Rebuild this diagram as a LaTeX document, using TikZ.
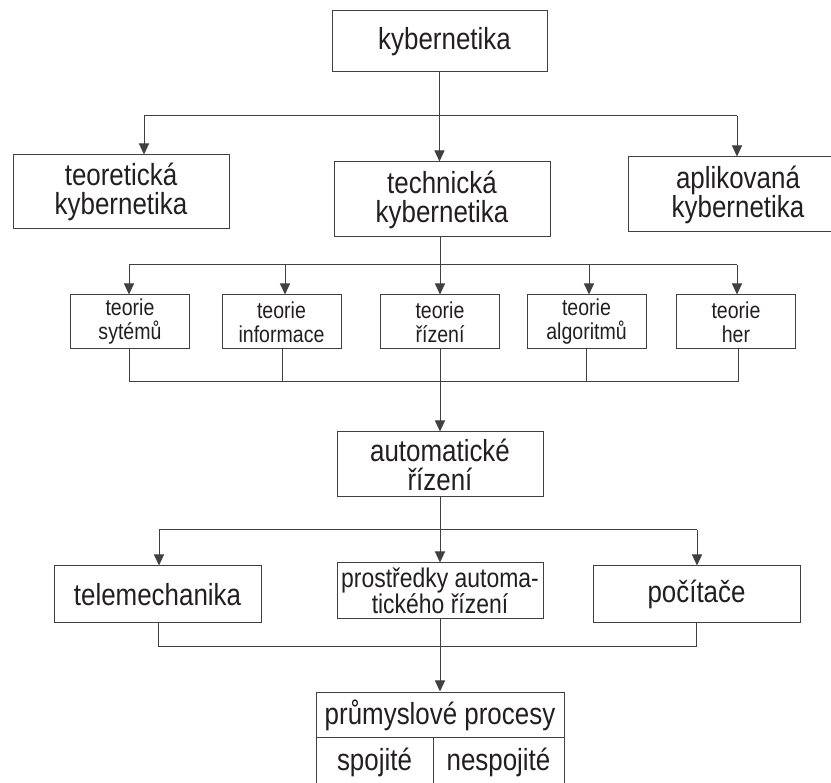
\documentclass[tikz,border=0pt]{standalone}
\usepackage{fontspec}
\setmainfont{Liberation Sans}[FakeStretch=0.85]
\usetikzlibrary{arrows.meta}
\definecolor{ln}{RGB}{64,64,64}
\definecolor{tx}{RGB}{35,31,32}
\begin{document}
\begin{tikzpicture}[x=1pt,y=-1pt,
  box/.style={draw=ln,line width=1pt,text=tx,align=center,inner sep=0pt,font=\fontsize{30.5}{29}\selectfont},
  small/.style={box,font=\fontsize{23}{24}\selectfont,minimum width=119pt,minimum height=54pt},
  plain/.style={text=tx,inner sep=0pt,font=\fontsize{30.5}{29}\selectfont},
  conn/.style={draw=ln,line width=1pt},
  arr/.style={conn,-{Triangle[length=11pt,width=10pt]}}]
\useasboundingbox (0,0) rectangle (831,783);
\fill[white] (0,0) rectangle (831,783);

% level 0
\node[box,minimum width=215pt,minimum height=61pt] (kyb) at (439.5,41.5) {\hspace*{10pt}kybernetika};
% level 1
\node[box,minimum width=216pt,minimum height=74pt] (teo) at (121,192) {teoretická\\kybernetika};
\node[box,minimum width=216pt,minimum height=75pt] (tech) at (442,199.5) {technická\\kybernetika};
\node[box,minimum width=220pt,minimum height=75pt] (apl) at (738,194.5) {aplikovaná\\kybernetika};
% level 2
\node[small] (s1) at (130,322) {teorie\\sytémů};
\node[small] (s2) at (281.5,322) {teorie\\informace};
\node[small] (s3) at (440,322) {teorie\\řízení};
\node[small] (s4) at (586.5,322) {teorie\\algoritmů};
\node[small] (s5) at (736,322) {teorie\\her};
% level 3
\node[box,minimum width=206pt,minimum height=65pt] (aut) at (440,464.5) {automatické\\řízení};
% level 4
\node[box,minimum width=207pt,minimum height=57pt] (tele) at (157.5,594.5) {telemechanika};
\node[box,minimum width=206pt,minimum height=56pt,font=\fontsize{27}{25}\selectfont] (pros) at (440,591) {prostředky automa-\\tického řízení};
\node[box,minimum width=207pt,minimum height=57pt] (poc) at (696.5,594.5) {počítače};
% level 5
\node[draw=ln,line width=1pt,minimum width=248pt,minimum height=118pt,inner sep=0pt] (prum) at (440,751) {};
\node[plain] (pt) at (440,715) {průmyslové procesy};
\node[plain] (sp) at (374.5,762) {spojité};
\node[plain] (nsp) at (498.5,762) {nespojité};
\coordinate (d1) at (316,737);
\coordinate (d2) at (564,737);
\coordinate (d3) at (433,737);
\coordinate (d4) at (433,810);
\draw[conn] (d1) -- (d2);
\draw[conn] (d3) -- (d4);

% connectors level 0 -> 1
\coordinate (j1l) at (144,116);
\coordinate (j1r) at (737,116);
\draw[arr] (kyb.south) -- (kyb.south |- tech.north);
\draw[conn] (j1l) -- (j1r);
\draw[arr] (j1l) -- (j1l |- teo.north);
\draw[arr] (j1r) -- (j1r |- apl.north);

% level 1 -> 2
\coordinate (j2l) at (129,265);
\coordinate (j2r) at (737,265);
\coordinate (a2) at (285,265);
\coordinate (a4) at (589,265);
\draw[arr] (s3 |- tech.south) -- (s3.north);
\draw[conn] (j2l) -- (j2r);
\draw[arr] (j2l) -- (j2l |- s1.north);
\draw[arr] (a2) -- (a2 |- s2.north);
\draw[arr] (a4) -- (a4 |- s4.north);
\draw[arr] (j2r) -- (j2r |- s5.north);

% level 2 -> 3
\coordinate (j3l) at (129,382);
\coordinate (j3r) at (738,382);
\coordinate (b2) at (282,382);
\coordinate (b4) at (586,382);
\draw[conn] (j3l |- s1.south) -- (j3l) -- (j3r) -- (j3r |- s5.south);
\draw[conn] (b2 |- s2.south) -- (b2);
\draw[conn] (b4 |- s4.south) -- (b4);
\draw[arr] (s3.south) -- (aut.north);

% level 3 -> 4
\coordinate (j4l) at (159,530);
\coordinate (j4r) at (697,530);
\draw[arr] (aut.south) -- (pros.north);
\draw[conn] (j4l) -- (j4r);
\draw[arr] (j4l) -- (j4l |- tele.north);
\draw[arr] (j4r) -- (j4r |- poc.north);

% level 4 -> 5
\coordinate (j5l) at (158,647);
\coordinate (j5r) at (696,647);
\draw[conn] (j5l |- tele.south) -- (j5l) -- (j5r) -- (j5r |- poc.south);
\draw[arr] (pros.south) -- (prum.north);
\end{tikzpicture}
\end{document}
